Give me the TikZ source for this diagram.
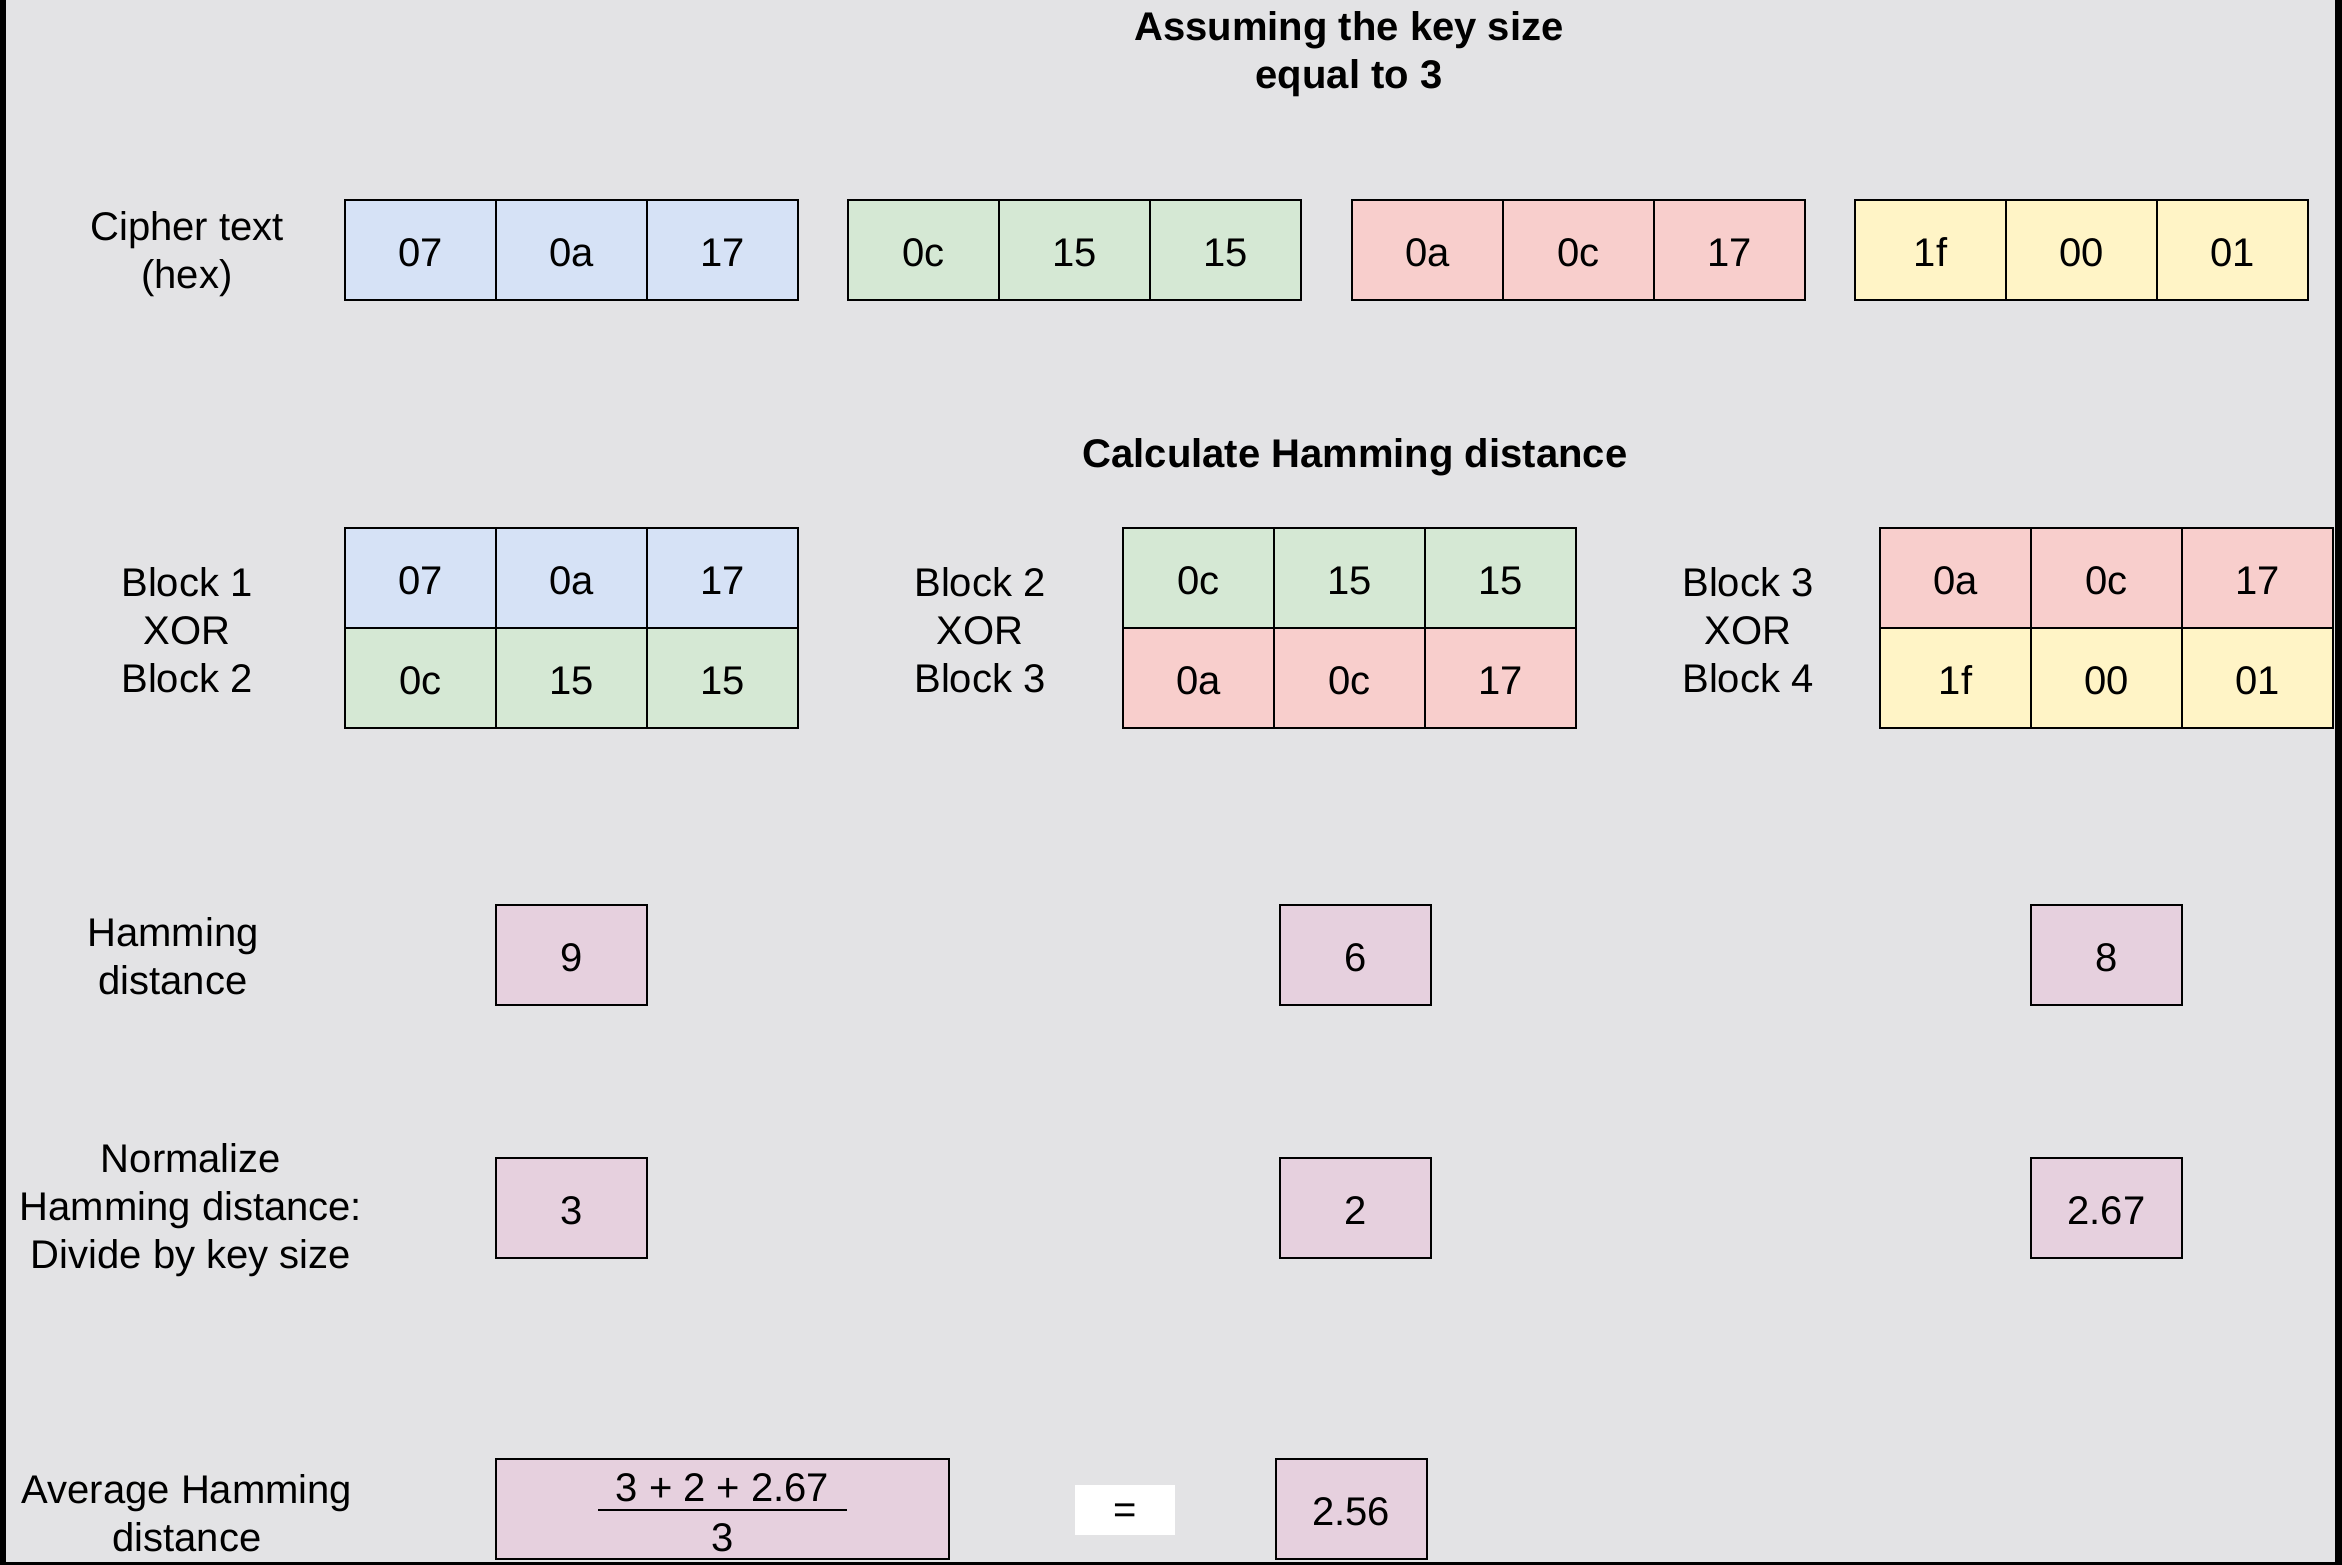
\documentclass[tikz,border=0pt]{standalone}
\usepackage{fontspec}
\setmainfont{Liberation Sans}
\definecolor{bgc}{RGB}{227,227,229}
\definecolor{cblue}{RGB}{214,226,246}
\definecolor{cgreen}{HTML}{D5E8D4}
\definecolor{cred}{HTML}{F8CECC}
\definecolor{cyellow}{RGB}{255,244,198}
\definecolor{cpurple}{HTML}{E6D0DE}
\begin{document}
\begin{tikzpicture}[x=1pt,y=-1pt,
  every node/.style={font=\fontsize{40}{48}\selectfont},
  cell/.style={draw=black,line width=2pt,minimum width=151pt,minimum height=100pt,inner sep=0pt,outer sep=0pt,text height=33pt,text depth=0pt},
  lbl/.style={align=center,inner sep=0pt,yshift=-1.5pt},
  ttl/.style={align=center,inner sep=0pt,yshift=-3pt,font=\fontsize{40}{48}\selectfont\bfseries}]
\fill[bgc] (0,0) rectangle (2342,1565);
\useasboundingbox (0,0) rectangle (2342,1565);
\fill[black] (0,0) rectangle (6,1565);
\fill[black] (2335,0) rectangle (2342,1565);
\fill[black] (0,1562) rectangle (2342,1565);

\node[ttl] (title) at (1349,51) {Assuming the key size\\equal to 3};
\node[lbl] (ctl) at (187,253) {Cipher text\\(hex)};

% row 1
\foreach \gx/\col/\a/\b/\c/\n in {345/cblue/07/0a/17/1, 848/cgreen/0c/15/15/2, 1352/cred/0a/0c/17/3, 1855/cyellow/1f/00/01/4}{
  \node[cell,fill=\col] (r1g\n a) at (\gx+75.5,250) {\a};
  \node[cell,fill=\col] (r1g\n b) at (\gx+226.5,250) {\b};
  \node[cell,fill=\col] (r1g\n c) at (\gx+377.5,250) {\c};
}

\node[ttl] (calc) at (1355,454) {Calculate Hamming distance};

% row 2
\foreach \gx/\ca/\cb/\a/\b/\c/\d/\e/\f/\n in {345/cblue/cgreen/07/0a/17/0c/15/15/1, 1123/cgreen/cred/0c/15/15/0a/0c/17/2, 1880/cred/cyellow/0a/0c/17/1f/00/01/3}{
  \node[cell,fill=\ca] (x\n ta) at (\gx+75.5,578) {\a};
  \node[cell,fill=\ca] (x\n tb) at (\gx+226.5,578) {\b};
  \node[cell,fill=\ca] (x\n tc) at (\gx+377.5,578) {\c};
  \node[cell,fill=\cb] (x\n ba) at (\gx+75.5,678) {\d};
  \node[cell,fill=\cb] (x\n bb) at (\gx+226.5,678) {\e};
  \node[cell,fill=\cb] (x\n bc) at (\gx+377.5,678) {\f};
}
\node[lbl] (xl1) at (187,629) {Block 1\\XOR\\Block 2};
\node[lbl] (xl2) at (980,629) {Block 2\\XOR\\Block 3};
\node[lbl] (xl3) at (1748,629) {Block 3\\XOR\\Block 4};

% hamming
\node[lbl] (hl) at (173,955) {Hamming\\distance};
\node[cell,fill=cpurple] (h1) at (571.5,955) {9};
\node[cell,fill=cpurple] (h2) at (1355.5,955) {6};
\node[cell,fill=cpurple] (h3) at (2106.5,955) {8};

% normalize
\node[lbl] (nl) at (191,1209) {Normalize\\Hamming distance:\\Divide by key size};
\node[cell,fill=cpurple] (n1) at (571.5,1208) {3};
\node[cell,fill=cpurple] (n2) at (1355.5,1208) {2};
\node[cell,fill=cpurple] (n3) at (2106.5,1208) {2.67};

% average
\node[lbl] (al) at (187,1512) {Average Hamming\\distance};
\node[cell,fill=cpurple,minimum width=453pt] (frac) at (722.5,1509) {};
\node[lbl] (num) at (722.5,1486.5) {3 + 2 + 2.67};
\node[lbl] (den) at (722.5,1536.5) {3};
\draw[line width=2pt] ([xshift=-124.5pt,yshift=-1pt]frac.center) -- ([xshift=124.5pt,yshift=-1pt]frac.center);
\node[fill=white,minimum width=100pt,minimum height=50pt,inner sep=0pt,text height=26pt,text depth=0pt] (eq) at (1125,1510) {=};
\node[cell,fill=cpurple] (res) at (1351,1509) {2.56};
\end{tikzpicture}
\end{document}
